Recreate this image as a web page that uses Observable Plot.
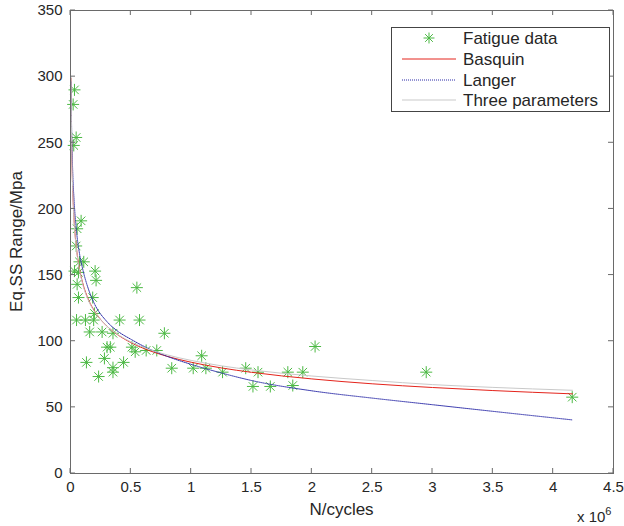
<!DOCTYPE html>
<html><head><meta charset="utf-8">
<script src="https://cdn.jsdelivr.net/npm/d3@7"></script>
<script src="https://cdn.jsdelivr.net/npm/@observablehq/plot@0.6"></script>
<style>
body{margin:0;background:#fff}
#chart{position:relative;width:624px;height:526px}
</style>
</head><body><div id="chart"></div>
<script>
// Fatigue data: N in millions of cycles, S = equivalent stress range (MPa)
const fatigueN = [0.033,0.022,0.047,0.027,0.088,0.055,0.047,0.074,0.110,0.033,0.066,0.204,0.212,0.055,0.066,0.184,
  0.050,0.124,0.198,0.192,0.407,0.572,0.159,0.262,0.352,0.303,0.330,0.509,0.536,0.281,0.132,0.440,0.352,0.352,0.233,
  0.550,0.778,0.627,0.715,0.839,1.017,1.087,1.122,1.260,1.452,1.554,1.512,1.656,1.801,1.925,1.842,2.027,2.948,4.158];
const fatigueS = [290,279,254,248,191,185,172,160,160,153,152,153,146,143,133,133,
  116,116,121,116,116,116,107,107,106,95.5,95.5,95.5,92,87,84,84,80,76.6,73.3,
  140.5,106,93,93,79.6,79.6,89,79.6,76.6,79.6,76.6,65.8,65.8,76.6,76.6,66.5,96,76.6,57.7];

// Fitted curves
const curveN     = [0.0045,0.006,0.008,0.01,0.015,0.02,0.03,0.05,0.075,0.1,0.15,0.2,0.3,0.4,0.5,0.6,0.8,1.0,1.25,1.5,2.0,2.5,3.0,3.5,4.16];
const basquinS   = [298.8,279.3,261.1,247.8,225.3,210.6,191.5,169.9,154.4,144.4,131.2,122.6,111.6,104.3,99.0,94.8,88.6,84.1,79.8,76.5,71.5,67.8,65.0,62.7,60.2];
const langerS    = [296,281,267,257,238,224,206,183,166,155,139,128,115,107,101.5,96.5,88.6,82.5,76,70.3,62.5,57,52,47,40.5];
const threeParS  = [300,281,262,248,225,210,190.5,169,153.5,143.5,130.5,122.2,111.6,104.6,99.5,95.6,89.7,85.5,81.4,78.3,73.7,70.3,67.2,65.1,62.9];

const xTicks = [0,0.5,1,1.5,2,2.5,3,3.5,4,4.5];
const xTickLabels = ["0","0.5","1","1.5","2","2.5","3","3.5","4","4.5"];
const yTicks = [0,50,100,150,200,250,300,350];
const legendLabels = ["Fatigue data","Basquin","Langer","Three parameters"];

const green = "#4cb944", red = "#e4241c", blue = "#2a2aa8", gray = "#c9c9c9";

const points = fatigueN.map((n,i)=>({n, s: fatigueS[i]}));
const curves = curveN.map((n,i)=>({n, b: basquinS[i], l: langerS[i], t: threeParS[i]}));

const star = {
  draw(ctx, size) {
    const r = Math.sqrt(size / Math.PI), d = r * Math.SQRT1_2;
    ctx.moveTo(-r,0); ctx.lineTo(r,0);
    ctx.moveTo(0,-r); ctx.lineTo(0,r);
    ctx.moveTo(-d,-d); ctx.lineTo(d,d);
    ctx.moveTo(-d,d); ctx.lineTo(d,-d);
  }
};

const font = "'Liberation Sans', Arial, sans-serif";
const chart = Plot.plot({
  width: 624, height: 526,
  marginLeft: 70, marginRight: 11, marginTop: 10, marginBottom: 53,
  style: {fontFamily: font, fontSize: "15px", color: "#262626", background: "#fff"},
  x: {domain: [0, 4.5]},
  y: {domain: [0, 350]},
  marks: [
    Plot.axisX(xTicks, {tickSize: 0, tickPadding: 8, tickFormat: d => xTickLabels[xTicks.indexOf(d)], label: null}),
    Plot.axisY(yTicks, {tickSize: 0, tickPadding: 8, label: null}),
    Plot.dot(points, {x: "n", y: "s", symbol: star, r: 6, stroke: green, fill: "none", strokeWidth: 1}),
    Plot.line(curves, {x: "n", y: "b", stroke: red, strokeWidth: 1, curve: "monotone-x"}),
    Plot.line(curves, {x: "n", y: "l", stroke: blue, strokeWidth: 1, strokeDasharray: "1,1", curve: "monotone-x"}),
    Plot.line(curves, {x: "n", y: "t", stroke: gray, strokeWidth: 1, curve: "monotone-x"}),
    Plot.frame({stroke: "#6a6a6a"})
  ]
});
document.getElementById("chart").appendChild(chart);

const svg = d3.select(chart);
const xs = chart.scale("x"), ys = chart.scale("y");
const X0 = xs.range[0], X1 = xs.range[1], Y0 = ys.range[0], Y1 = ys.range[1];
const tk = svg.append("g").attr("stroke", "#6a6a6a").attr("stroke-width", 1);
xTicks.forEach(t => {
  const x = xs.apply(t);
  tk.append("line").attr("x1", x).attr("x2", x).attr("y1", Y0).attr("y2", Y0 - 5);
  tk.append("line").attr("x1", x).attr("x2", x).attr("y1", Y1).attr("y2", Y1 + 5);
});
yTicks.forEach(t => {
  const y = ys.apply(t);
  tk.append("line").attr("x1", X0).attr("x2", X0 + 5).attr("y1", y).attr("y2", y);
  tk.append("line").attr("x1", X1).attr("x2", X1 - 5).attr("y1", y).attr("y2", y);
});

// axis titles
svg.append("text").attr("x", (X0 + X1) / 2).attr("y", 515).attr("text-anchor", "middle")
  .attr("font-family", font).attr("font-size", 17).attr("fill", "#262626").text("N/cycles");
svg.append("text").attr("transform", `translate(22,${(Y0 + Y1) / 2}) rotate(-90)`).attr("text-anchor", "middle")
  .attr("font-family", font).attr("font-size", 17).attr("fill", "#262626").text("Eq.SS Range/Mpa");
const ex = svg.append("text").attr("x", 577).attr("y", 522).attr("text-anchor", "start")
  .attr("font-family", font).attr("font-size", 15).attr("fill", "#262626");
ex.append("tspan").text("x 10");
ex.append("tspan").attr("dy", -7).attr("font-size", 11).text("6");

// legend
const lg = svg.append("g").attr("font-family", font).attr("font-size", 17).attr("fill", "#262626").attr("text-anchor", "start");
lg.append("rect").attr("x", 391.5).attr("y", 27.5).attr("width", 218).attr("height", 84)
  .attr("fill", "#fff").attr("stroke", "#444");
const rowY = [38, 59, 80, 100];
const lx1 = 402, lx2 = 456, tx = 463;
const sym = d3.symbol(star, 30 * Math.PI)();
lg.append("path").attr("d", sym).attr("transform", `translate(429,${rowY[0]})`).attr("fill", "none").attr("stroke", green);
[[red, null], [blue, "1,1"], [gray, null]].forEach(([c, da], i) => {
  const l = lg.append("line").attr("x1", lx1).attr("x2", lx2).attr("y1", rowY[i + 1]).attr("y2", rowY[i + 1]).attr("stroke", c);
  if (da) l.attr("stroke-dasharray", da);
});
legendLabels.forEach((s, i) => {
  lg.append("text").attr("x", tx).attr("y", rowY[i]).attr("dy", "0.35em").attr("text-anchor", "start").text(s);
});
</script>
</body></html>
